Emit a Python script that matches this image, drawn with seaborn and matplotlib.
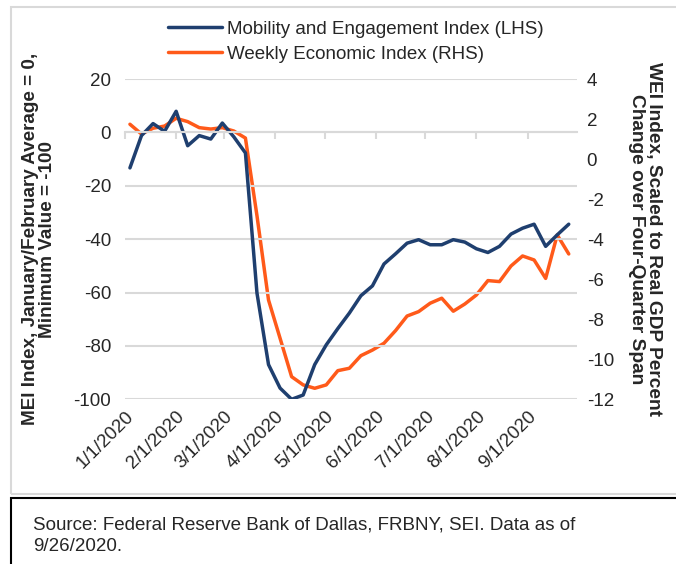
import pandas as pd
import matplotlib
matplotlib.use('Agg')
import matplotlib.pyplot as plt
import matplotlib.dates as mdates
from matplotlib.patches import Rectangle
import seaborn as sns

# weekly readings, Saturdays from 1/4/2020 to 9/26/2020
weeks = pd.date_range('2020-01-04', '2020-09-26', freq='7D')

# Mobility and Engagement Index (left axis)
mei = [-13.3, -1.2, 3.3, 0.4, 7.9, -5.0, -1.2, -2.5, 3.5, -1.7,
       -7.7, -60.2, -87.0, -95.8, -100.0, -98.4, -87.0, -79.6, -73.5, -67.7,
       -61.2, -57.5, -49.3, -45.5, -41.5, -40.2, -42.1, -42.1, -40.2, -41.1,
       -43.6, -45.0, -42.7, -38.1, -35.9, -34.4, -42.7, -38.4, -34.4]

# Weekly Economic Index (right axis)
wei = [1.74, 1.25, 1.54, 1.65, 2.04, 1.87, 1.57, 1.50, 1.57, 1.40,
       1.05, -2.83, -7.04, -8.95, -10.87, -11.28, -11.45, -11.28, -10.57, -10.45,
       -9.82, -9.54, -9.20, -8.57, -7.84, -7.62, -7.20, -6.95, -7.60, -7.24,
       -6.79, -6.07, -6.12, -5.34, -4.84, -5.04, -5.96, -3.79, -4.74]

month_ticks = pd.date_range('2020-01-01', '2020-09-01', freq='MS')
month_labels = ['1/1/2020', '2/1/2020', '3/1/2020', '4/1/2020', '5/1/2020',
                '6/1/2020', '7/1/2020', '8/1/2020', '9/1/2020']
left_ticks = [-100, -80, -60, -40, -20, 0, 20]
right_ticks = [-12, -10, -8, -6, -4, -2, 0, 2, 4]

mei_name = 'Mobility and Engagement Index (LHS)'
wei_name = 'Weekly Economic Index (RHS)'
blue = '#1F3F6F'
orange = '#FF5A1A'

df = pd.DataFrame({'week': weeks, 'mei': mei, 'wei': wei})

sns.set_style('white')
plt.rcParams['font.family'] = ['Liberation Sans', 'DejaVu Sans']
plt.rcParams['axes.unicode_minus'] = False
fs = 13.5

fig = plt.figure(figsize=(6.76, 5.64), dpi=100)
ax = fig.add_axes([125 / 676, 1 - 399.3 / 564, 452 / 676, 320.3 / 564])
ax2 = ax.twinx()

sns.lineplot(data=df, x='week', y='mei', ax=ax, color=blue, linewidth=2.5, label=mei_name)
sns.lineplot(data=df, x='week', y='wei', ax=ax2, color=orange, linewidth=2.5, label=wei_name)
ax2.set_zorder(ax.get_zorder() - 1)
ax.patch.set_visible(False)

ax.set_xlim(pd.Timestamp('2020-01-01'), pd.Timestamp('2020-10-01'))
ax.set_ylim(-100, 20)
ax2.set_ylim(-12, 4)
ax.set_yticks(left_ticks)
ax2.set_yticks(right_ticks)
ax.yaxis.grid(True, color='#D9D9D9', linewidth=1.5)
ax.set_axisbelow(True)

for a in (ax, ax2):
    for s in ('left', 'right', 'top'):
        a.spines[s].set_visible(False)
ax2.spines['bottom'].set_visible(False)

# horizontal axis crosses at 0 with small tick marks
ax.spines['bottom'].set_position(('data', 0))
ax.spines['bottom'].set_color('#D9D9D9')
ax.spines['bottom'].set_linewidth(1.5)
ax.set_xticks(month_ticks)
ax.tick_params(axis='x', direction='out', length=5, width=1.5, color='#D9D9D9',
               bottom=True, labelbottom=False)
ax.tick_params(axis='y', length=0, labelsize=fs, pad=10)
ax2.tick_params(axis='y', length=0, labelsize=fs, pad=7)

# date labels stay at the bottom
sec = ax.secondary_xaxis('bottom')
sec.spines['bottom'].set_visible(False)
sec.set_xticks(mdates.date2num(month_ticks), labels=month_labels)
sec.tick_params(length=0, labelsize=fs, pad=6)
for lab in sec.get_xticklabels():
    lab.set_rotation(45)
    lab.set_ha('right')
    lab.set_rotation_mode('anchor')

ax.set_xlabel('')
ax2.set_xlabel('')
ax.set_ylabel('MEI Index, January/February Average = 0,\nMinimum Value = -100',
              fontsize=13.6, fontweight='bold', linespacing=1.0)
ax.yaxis.set_label_coords(-0.152, 0.5)
ax2.set_ylabel('WEI Index, Scaled to Real GDP Percent\nChange over Four-Quarter Span',
               fontsize=13.8, fontweight='bold', rotation=270, va='bottom', linespacing=1.0)
ax2.yaxis.set_label_coords(1.112, 0.5)

h1, l1 = ax.get_legend_handles_labels()
h2, l2 = ax2.get_legend_handles_labels()
ax.get_legend().remove()
ax2.get_legend().remove()
fig.legend(h1 + h2, l1 + l2, loc='upper left', bbox_to_anchor=(160 / 676, 1 - 13 / 564),
           frameon=False, fontsize=fs, handlelength=2.9, handletextpad=0.25,
           labelspacing=0.42, borderaxespad=0)

# outline of the chart area and the source box
fig.patches.append(Rectangle((11 / 676, 1 - 494 / 564), 1.0, 487 / 564, transform=fig.transFigure,
                             fill=False, edgecolor='#D9D9D9', linewidth=1.5))
fig.patches.append(Rectangle((11 / 676, -0.1), 1.0, 66 / 564 + 0.1, transform=fig.transFigure,
                             fill=False, edgecolor='black', linewidth=1.5))
fig.text(33 / 676, 1 - 535.5 / 564,
         'Source: Federal Reserve Bank of Dallas, FRBNY, SEI. Data as of\n9/26/2020.',
         fontsize=fs, va='center', ha='left', linespacing=1.38)

fig.savefig('out.png', dpi=100)
